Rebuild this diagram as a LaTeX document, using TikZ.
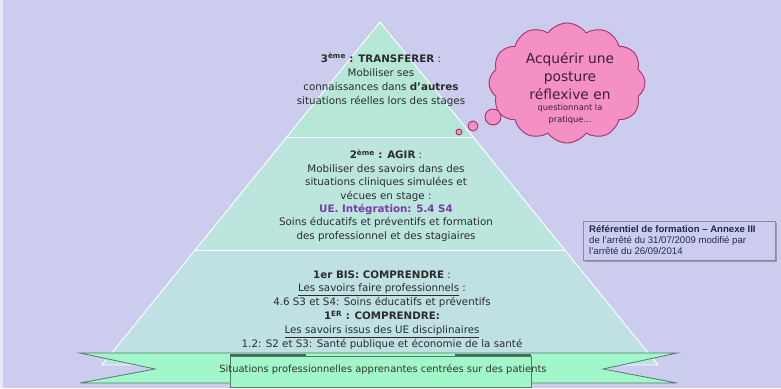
\documentclass[tikz,border=0pt]{standalone}
\usepackage{fontspec}
\setmainfont{DejaVu Sans}
\newfontfamily\widef{DejaVu Sans}
\newfontfamily\arialf{Liberation Sans}
\usetikzlibrary{shapes.symbols}
\definecolor{bg}{HTML}{CCCCEE}
\definecolor{pyrtop}{HTML}{B6E7D7}
\definecolor{pyrmid}{HTML}{BBE5DD}
\definecolor{pyrbot}{HTML}{BFE1E3}
\definecolor{cloudfill}{HTML}{F590C4}
\definecolor{cloudline}{HTML}{A3346E}
\definecolor{cloudtext}{HTML}{3A2038}
\definecolor{ribbonfill}{HTML}{A2F7CA}
\definecolor{ribbonline}{HTML}{4E7D6C}
\definecolor{ribbondark}{HTML}{3E6B5A}
\definecolor{txt}{HTML}{2C2C2C}
\definecolor{uepurple}{HTML}{7A3AA8}
\definecolor{refline}{HTML}{8A8A9A}
\definecolor{reftxt}{HTML}{1E2A55}
\tikzset{
  pyrtext/.style={align=center, text=txt, inner sep=0pt, font=\fontsize{10.3}{14.2}\selectfont},
  bubble/.style={draw=cloudline, fill=cloudfill, line width=0.9pt},
  ribbonpart/.style={draw=ribbonline, fill=ribbonfill, line width=0.8pt},
}
\begin{document}
\begin{tikzpicture}[x=1pt,y=-1pt]
\useasboundingbox (0,0) rectangle (781,388);
\fill[bg] (0,0) rectangle (781,388);
\fill[white!55!bg] (0,0) rectangle (3,388);
% pyramid
\coordinate (apex) at (380,22);
\coordinate (bl) at (102,365);
\coordinate (br) at (658,365);
\coordinate (d1l) at (286.8,137);
\coordinate (d1r) at (473.2,137);
\coordinate (d2l) at (195.2,250);
\coordinate (d2r) at (564.8,250);
\fill[pyrtop] (apex) -- (d1r) -- (d1l) -- cycle;
\fill[pyrmid] (d1l) -- (d1r) -- (d2r) -- (d2l) -- cycle;
\fill[pyrbot] (d2l) -- (d2r) -- (br) -- (bl) -- cycle;
\draw[white, line width=0.9pt] (apex) -- (br) -- (bl) -- cycle;
\draw[white, line width=0.9pt] (d1l) -- (d1r);
\draw[white, line width=0.9pt] (d2l) -- (d2r);
% texts
\node[pyrtext] (t3) at (381,80) {\textbf{3\textsuperscript{ème} : TRANSFERER} :\\Mobiliser ses\\connaissances dans \textbf{d’autres}\\situations réelles lors des stages};
\node[pyrtext, font=\fontsize{10.3}{13.4}\selectfont] (t2) at (386,195.5) {\textbf{2\textsuperscript{ème} : AGIR} :\\Mobiliser des savoirs dans des\\situations cliniques simulées et\\vécues en stage :\\\textcolor{uepurple}{\textbf{UE. Intégration: 5.4 S4}}\\Soins éducatifs et préventifs et formation\\des professionnel et des stagiaires};
\node[pyrtext, font=\fontsize{10.3}{13.9}\selectfont] (t1) at (382,310) {\textbf{1er BIS: COMPRENDRE} :\\\underline{Les savoirs faire professionnels} :\\4.6 S3 et S4: Soins éducatifs et préventifs\\\textbf{1\textsuperscript{ER} : COMPRENDRE:}\\\underline{Les savoirs issus des UE disciplinaires}\\1.2: S2 et S3: Santé publique et économie de la santé};
% cloud
\node[cloud, cloud puffs=12, cloud puff arc=110, aspect=1.3, bubble, minimum width=156pt, minimum height=120pt, inner sep=0pt] (cloud) at (567,83) {};
\draw[bubble] (459,132) circle[radius=3];
\draw[bubble] (473,126) circle[radius=5];
\draw[bubble] (493,117) circle[radius=8];
\node[align=center, text=cloudtext, inner sep=0pt, font=\widef\fontsize{13.8}{18.3}\selectfont] (ctext) at (570,76) {Acquérir une\\posture\\réflexive en};
\node[align=center, text=cloudtext, inner sep=0pt, font=\widef\fontsize{8.3}{12.5}\selectfont] (csmall) at (570,114) {questionnant la\\pratique...};
% reference box
\fill[bg!75!black] (585,223) rectangle (777,262);
\node[draw=refline, fill=bg, line width=0.7pt, minimum width=192pt, minimum height=39pt, inner sep=0pt] (ref) at (679,241) {};
\node[anchor=west, align=left, text=reftxt, inner sep=0pt, font=\arialf\fontsize{9.6}{11.3}\selectfont] (reftext) at (589,240) {\textbf{Référentiel de formation – Annexe III}\\de l’arrêté du 31/07/2009 modifié par\\l’arrêté du 26/09/2014};
% ribbon
\draw[ribbonpart] (80,353) -- (677,353) -- (603,369) -- (677,383) -- (80,383) -- (155,369) -- cycle;
\draw[ribbonpart] (230,356) rectangle (531,387);
\draw[ribbondark, line width=1.3pt] (230,355) -- (306,355);
\draw[ribbondark, line width=1.3pt] (455,355) -- (531,355);
\node[text=black!80, inner sep=0pt, font=\widef\fontsize{9.9}{10}\selectfont] (rtext) at (383,369.5) {Situations professionnelles apprenantes centrées sur des patients};
\end{tikzpicture}
\end{document}
